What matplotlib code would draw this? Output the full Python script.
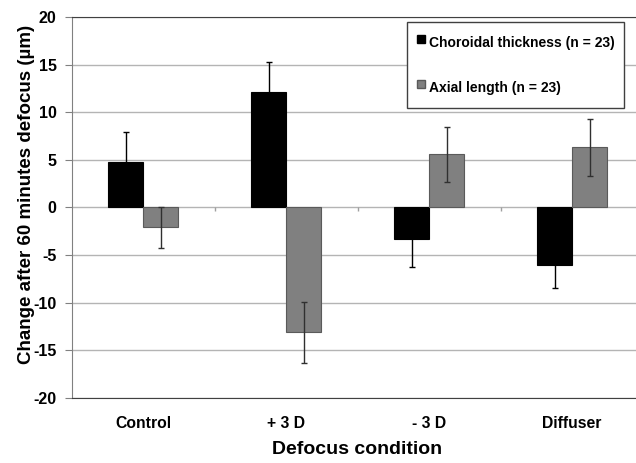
import numpy as np
import matplotlib
matplotlib.use("Agg")
import matplotlib.pyplot as plt
from matplotlib.lines import Line2D

plt.rcParams['font.family'] = ['Liberation Sans', 'DejaVu Sans']
plt.rcParams['font.weight'] = 'bold'

conditions = ['Control', '+ 3 D', '- 3 D', 'Diffuser']
choroid = [4.8, 12.1, -3.3, -6.0]
choroid_err = [3.1, 3.2, 2.9, 2.5]
axial = [-2.1, -13.1, 5.6, 6.3]
axial_err = [2.2, 3.2, 2.9, 2.95]
yticks = [-20, -15, -10, -5, 0, 5, 10, 15, 20]

fig = plt.figure(figsize=(6.36, 4.63), dpi=100)
ax = fig.add_axes([0.1132, 0.1404, 0.8986, 0.8229])

x = np.arange(len(conditions))
w = 0.245

ax.bar(x - w / 2, choroid, w, color='black', edgecolor='black', linewidth=0.8, zorder=2)
ax.bar(x + w / 2, axial, w, color='#808080', edgecolor='#5a5a5a', linewidth=0.8, zorder=2)
ax.errorbar(x - w / 2, choroid, yerr=choroid_err, fmt='none', ecolor='black',
            elinewidth=1, capsize=2.5, capthick=1, zorder=4)
ax.errorbar(x + w / 2, axial, yerr=axial_err, fmt='none', ecolor='#303030',
            elinewidth=1, capsize=2.5, capthick=1, zorder=4)

# small category ticks on the zero line (excel style)
ax.vlines(x[:-1] + 0.5, -0.4, 0, color='#a0a0a0', linewidth=1, zorder=1)

ax.set_xlim(-0.5, len(conditions) - 0.5)
ax.set_ylim(-20, 20)
ax.set_yticks(yticks)
ax.set_yticklabels([str(v) for v in yticks], fontsize=11.5, fontweight='bold')
ax.set_xticks(x)
ax.set_xticklabels(conditions, fontsize=11.3, fontweight='bold')
ax.tick_params(axis='x', length=0, pad=13)
ax.tick_params(axis='y', direction='out', length=5, color='#808080', pad=6)

ax.yaxis.grid(True, color='#b4b4b4', linewidth=1)
ax.set_axisbelow(True)

for side in ['top', 'bottom', 'right']:
    ax.spines[side].set_color('#404040')
ax.spines['left'].set_color('#808080')

ax.set_ylabel('Change after 60 minutes defocus (µm)', fontsize=13.5, fontweight='bold')
ax.set_xlabel('Defocus condition', fontsize=14, fontweight='bold')
ax.yaxis.set_label_coords(-0.065, 0.535)
ax.xaxis.set_label_coords(0.499, -0.113)

handles = [Line2D([], [], linestyle='none', marker='s', markersize=5.5,
                  markerfacecolor='black', markeredgecolor='black'),
           Line2D([], [], linestyle='none', marker='s', markersize=5.5,
                  markerfacecolor='#808080', markeredgecolor='#5a5a5a')]
leg = ax.legend(handles, ['Choroidal thickness (n = 23)', 'Axial length (n = 23)'],
                loc='upper right', bbox_to_anchor=(0.966, 0.987), borderaxespad=0,
                prop={'weight': 'bold', 'size': 10}, fancybox=False,
                framealpha=1, edgecolor='#404040', labelspacing=1.7, borderpad=0.7,
                handlelength=0.6, handleheight=2.0, handletextpad=0.25)
leg.get_frame().set_linewidth(1)

fig.savefig('out.png', dpi=100)
